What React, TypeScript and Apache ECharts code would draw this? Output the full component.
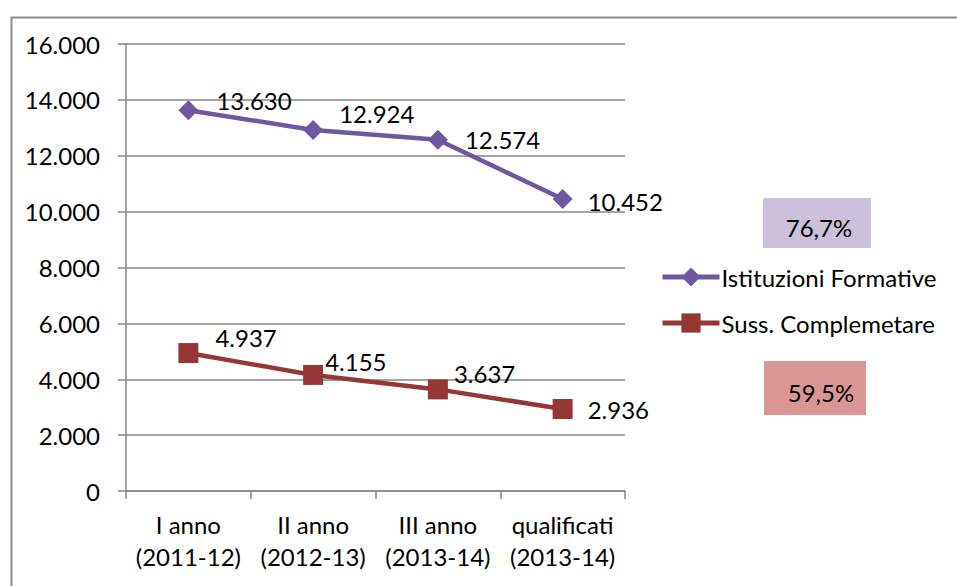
import React, { useEffect, useRef } from "react";
import * as echarts from "echarts";

const categories = ["I anno\n(2011-12)", "II anno\n(2012-13)", "III anno\n(2013-14)", "qualificati\n(2013-14)"];
const istituzioni = [13630, 12924, 12574, 10452];
const sussidiarieta = [4937, 4155, 3637, 2936];
const seriesNames = ["Istituzioni Formative", "Suss. Complemetare"];
const yTicks = { min: 0, max: 16000, interval: 2000 };
const percentLabels = ["76,7%", "59,5%"];

// label offsets (style)
const purpleOffsets = [[18, -10], [16, -16], [17, 0], [15, 3]];
const redOffsets = [[17, -16], [2, -13], [6, -16], [15, 1]];

const FONT = "Lato, 'Open Sans', sans-serif";
const FS = 24;
const PURPLE = "#6E58A0";
const RED = "#953735";
const GRID = "#878787";

const fmt = (v: number) => String(Math.round(v)).replace(/\B(?=(\d{3})+(?!\d))/g, ".");

export default function App() {
  const ref = useRef<HTMLDivElement>(null);
  useEffect(() => {
    if (!ref.current) return;
    const chart = echarts.init(ref.current, undefined, { renderer: "svg" });
    chart.setOption({
      animation: false,
      backgroundColor: "#ffffff",
      textStyle: { fontFamily: FONT },
      grid: { left: 126, top: 44, right: 332, bottom: 95, containLabel: false },
      xAxis: {
        type: "category",
        data: categories,
        boundaryGap: true,
        axisLine: { show: true, lineStyle: { color: GRID, width: 1.5 } },
        axisTick: { show: true, interval: 0, length: 8, lineStyle: { color: GRID, width: 1.5 } },
        axisLabel: { interval: 0, margin: 17, color: "#000", fontSize: FS, lineHeight: 32, fontFamily: FONT },
      },
      yAxis: {
        type: "value",
        min: yTicks.min,
        max: yTicks.max,
        interval: yTicks.interval,
        axisLine: { show: true, lineStyle: { color: GRID, width: 1.5 } },
        axisTick: { show: true, length: 8, lineStyle: { color: GRID, width: 1.5 } },
        splitLine: { show: true, lineStyle: { color: GRID, width: 1.5 } },
        axisLabel: { margin: 26, color: "#000", fontSize: FS, fontFamily: FONT, formatter: (v: number) => fmt(v) },
      },
      legend: {
        orient: "vertical",
        left: 655,
        top: 260,
        itemWidth: 57,
        itemHeight: 24,
        itemGap: 22,
        textStyle: { color: "#000", fontSize: FS, fontFamily: FONT, padding: [0, 0, 0, -3] },
        data: [
          { name: seriesNames[0], lineStyle: { width: 5, color: PURPLE } },
          { name: seriesNames[1], lineStyle: { width: 5, color: RED } },
        ],
      },
      series: [
        {
          name: seriesNames[0],
          type: "line",
          data: istituzioni.map((v, i) => ({
            value: v,
            label: { offset: purpleOffsets[i] },
          })),
          symbol: "diamond",
          symbolSize: 20,
          lineStyle: { color: PURPLE, width: 4.5 },
          itemStyle: { color: PURPLE },
          label: {
            show: true,
            position: "right",
            distance: 0,
            color: "#000",
            fontSize: FS,
            fontFamily: FONT,
            formatter: (p: any) => fmt(p.value),
          },
        },
        {
          name: seriesNames[1],
          type: "line",
          data: sussidiarieta.map((v, i) => ({
            value: v,
            label: { offset: redOffsets[i] },
          })),
          symbol: "rect",
          symbolSize: 20,
          lineStyle: { color: RED, width: 4.5 },
          itemStyle: { color: RED },
          label: {
            show: true,
            position: "right",
            distance: 0,
            color: "#000",
            fontSize: FS,
            fontFamily: FONT,
            formatter: (p: any) => fmt(p.value),
          },
        },
      ],
      graphic: [
        {
          type: "rect",
          left: 9,
          top: 15,
          shape: { width: 1000, height: 700 },
          style: { fill: "none", stroke: "#8a8a8a", lineWidth: 2 },
          z: -1,
          silent: true,
        },
        {
          type: "group",
          left: 763,
          top: 198,
          children: [
            { type: "rect", shape: { x: 0, y: 0, width: 108, height: 50 }, style: { fill: "#CCC0DA" } },
            {
              type: "text",
              x: 56,
              y: 29,
              style: { text: percentLabels[0], fill: "#000", fontSize: FS, fontFamily: FONT, align: "center", verticalAlign: "middle" },
            },
          ],
        },
        {
          type: "group",
          left: 764,
          top: 361,
          children: [
            { type: "rect", shape: { x: 0, y: 0, width: 102, height: 54 }, style: { fill: "#DA9694" } },
            {
              type: "text",
              x: 57,
              y: 31,
              style: { text: percentLabels[1], fill: "#000", fontSize: FS, fontFamily: FONT, align: "center", verticalAlign: "middle" },
            },
          ],
        },
      ],
    });
    return () => chart.dispose();
  }, []);
  return <div ref={ref} style={{ position: "absolute", left: 0, top: 0, width: 957, height: 586 }} />;
}
